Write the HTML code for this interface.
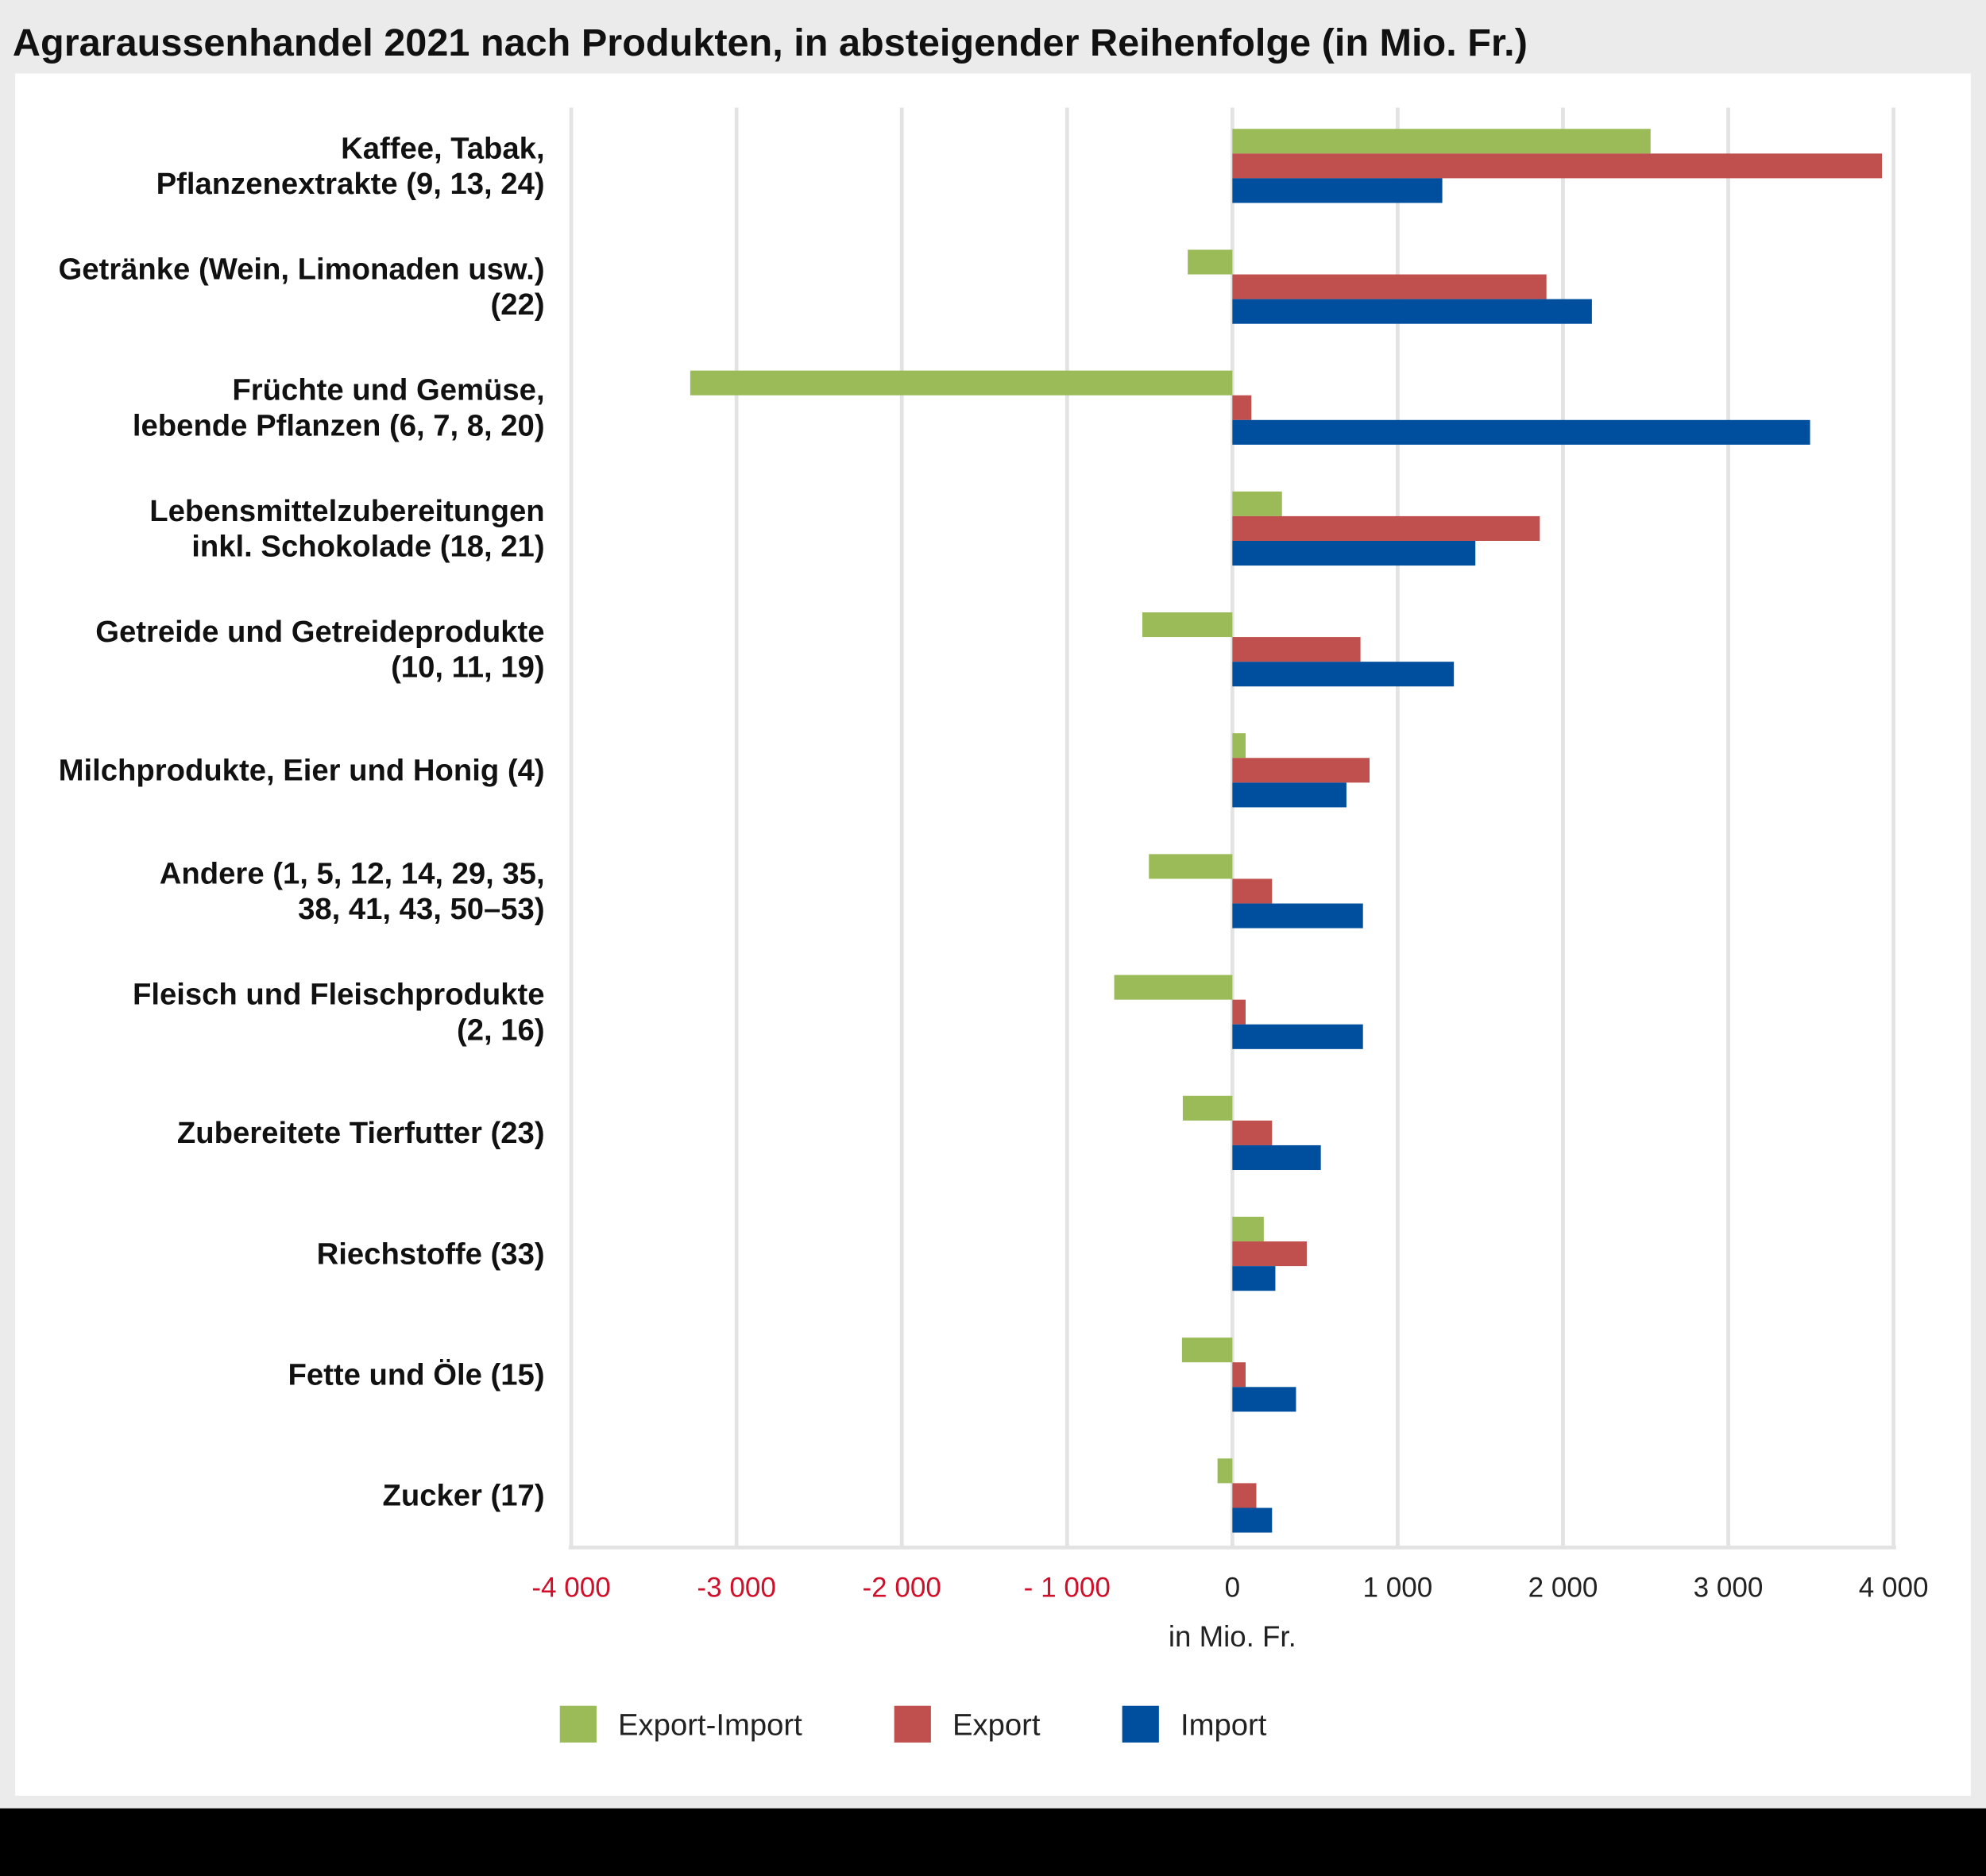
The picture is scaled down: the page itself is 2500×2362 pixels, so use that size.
<!DOCTYPE html>
<html><head><meta charset="utf-8"><style>
html,body{margin:0;padding:0;background:#ebebeb}
svg{display:block}
text{font-family:"Liberation Sans Narrow","Liberation Sans",sans-serif}
</style></head><body>
<svg id="chart" width="2500" height="2362" viewBox="0 0 1568 1481.4" preserveAspectRatio="none" xmlns="http://www.w3.org/2000/svg">
<rect x="0" y="0" width="1568" height="1482" fill="#ebebeb"/>
<text x="10" y="44" font-size="30.5" font-weight="bold" fill="#111">Agraraussenhandel 2021 nach Produkten, in absteigender Reihenfolge (in Mio. Fr.)</text>
<rect x="12" y="58" width="1544" height="1360" fill="#fff"/>
<rect x="0" y="1428" width="1568" height="54" fill="#000"/>
<g id="grid"></g><g id="bars"></g><g id="labels"></g><g id="ticks"></g>
<text x="973" y="1300" font-size="23" text-anchor="middle" fill="#222">in Mio. Fr.</text>
<g>
<rect x="442" y="1347" width="29" height="29" fill="#9bbb59"/>
<text x="488" y="1370" font-size="24" fill="#222">Export-Import</text>
<rect x="706" y="1347" width="29" height="29" fill="#c0504d"/>
<text x="752" y="1370" font-size="24" fill="#222">Export</text>
<rect x="886" y="1347" width="29" height="29" fill="#004f9f"/>
<text x="932" y="1370" font-size="24" fill="#222">Import</text>
</g>
</svg>
<script>
const categories=[["Kaffee, Tabak,","Pflanzenextrakte (9, 13, 24)"],["Getränke (Wein, Limonaden usw.)","(22)"],["Früchte und Gemüse,","lebende Pflanzen (6, 7, 8, 20)"],["Lebensmittelzubereitungen","inkl. Schokolade (18, 21)"],["Getreide und Getreideprodukte","(10, 11, 19)"],["Milchprodukte, Eier und Honig (4)"],["Andere (1, 5, 12, 14, 29, 35,","38, 41, 43, 50–53)"],["Fleisch und Fleischprodukte","(2, 16)"],["Zubereitete Tierfutter (23)"],["Riechstoffe (33)"],["Fette und Öle (15)"],["Zucker (17)"]];
const balance=[2530,-270,-3280,300,-545,80,-505,-715,-300,190,-305,-90];
const exportVals=[3930,1900,115,1860,775,830,240,80,240,450,80,145];
const importVals=[1270,2175,3495,1470,1340,690,790,790,535,260,385,240];
const tickValues=[-4000,-3000,-2000,-1000,0,1000,2000,3000,4000];
const tickLabels=["-4 000","-3 000","-2 000","- 1 000","0","1 000","2 000","3 000","4 000"];
const NS="http://www.w3.org/2000/svg";
const x=v=>973+v*0.1305;
const gc=i=>131+i*95.45;
const bh=19.5;
function mk(t,a,p){const e=document.createElementNS(NS,t);for(const k in a)e.setAttribute(k,a[k]);p.appendChild(e);return e;}
const grid=document.getElementById('grid'),bars=document.getElementById('bars'),labels=document.getElementById('labels'),ticks=document.getElementById('ticks');
tickValues.forEach((v,i)=>{
 const l=mk('line',{x1:x(v),x2:x(v),y1:85,y2:1222,stroke:'#e3e3e3','stroke-width':3},grid);
 
 
 const t=mk('text',{x:x(v),y:1261,'font-size':22,'text-anchor':'middle',fill:v<0?'#d0102a':'#222'},ticks);
 t.textContent=tickLabels[i];
 
 
});
const ax=mk('line',{x1:x(-4000)-2,x2:x(4000)+2,y1:1222,y2:1222,stroke:'#e3e3e3','stroke-width':3},grid);


const series=[[balance,'#9bbb59','bar-export-import'],[exportVals,'#c0504d','bar-export'],[importVals,'#004f9f','bar-import']];
categories.forEach((c,i)=>{
 series.forEach((s,j)=>{
  const v=s[0][i];const y=gc(i)-1.5*bh+j*bh;
  const r=mk('rect',{x:Math.min(x(0),x(v)),y:y,width:Math.abs(x(v)-x(0)),height:bh,fill:s[1]},bars);
  
  
 });
 const n=c.length;
 c.forEach((line,k)=>{
  const t=mk('text',{x:430,y:gc(i)+8+(k-(n-1)/2)*28,'font-size':24,'font-weight':'bold','text-anchor':'end',fill:'#111'},labels);
  t.textContent=line;
  
  
 });
});
</script>
</body></html>
